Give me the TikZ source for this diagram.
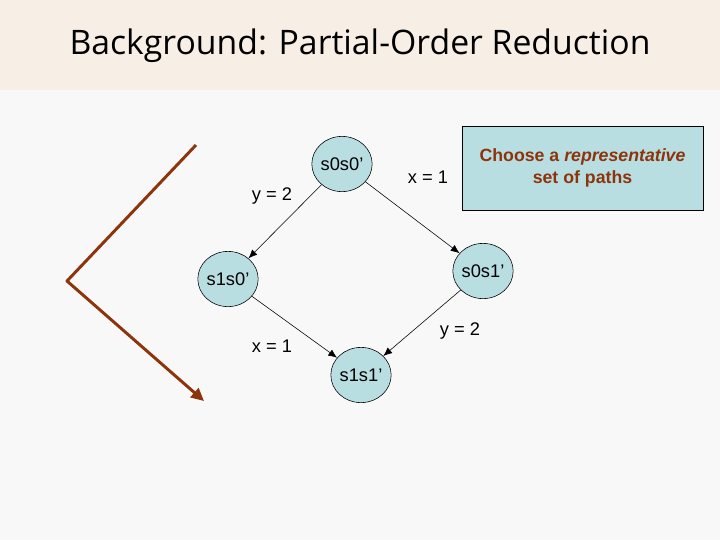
\documentclass[tikz,border=0pt]{standalone}
\usepackage{fontspec}
\setmainfont{Liberation Sans}
\newfontfamily\titlefont{Open Sans}
\usepackage{tikz}
\usetikzlibrary{shapes.geometric, arrows.meta, positioning}
\definecolor{titlebeige}{RGB}{247, 238, 230}
\definecolor{slidegray}{RGB}{248, 248, 248}
\definecolor{statecyan}{RGB}{185, 222, 226}
\definecolor{rustbrown}{RGB}{140, 52, 12}

\begin{document}
\begin{tikzpicture}[x=0.025cm, y=-0.025cm,
    state/.style={draw, ellipse, fill=statecyan, minimum width=1.5cm,
                  minimum height=1.38cm, inner sep=0pt, font=\fontsize{13}{15}\selectfont},
    lbl/.style={font=\fontsize{13}{15}\selectfont},
    arr/.style={-{Latex[length=2.2mm, width=1.8mm]}, thin},
    note/.style={draw, fill=statecyan, minimum width=6.02cm, minimum height=2.1cm,
                 align=center, text=rustbrown, font=\bfseries\fontsize{12.6}{15.5}\selectfont},
]
    % background and title band
    \fill[slidegray] (0,0) rectangle (720,540);
    \fill[titlebeige] (0,0) rectangle (720,90);
    \node[font=\titlefont\fontsize{24}{28}\selectfont] (title) at (360,46) {Background: Partial-Order Reduction};

    % states
    \node[state] (s00) at (342,164) {s0s0'};
    \node[state] (s10) at (228,279) {s1s0'};
    \node[state] (s01) at (483,271) {s0s1'};
    \node[state] (s11) at (361,375) {s1s1'};

    % transitions
    \draw[arr] (s00) -- (s10);
    \draw[arr] (s00) -- (s01);
    \draw[arr] (s10) -- (s11);
    \draw[arr] (s01) -- (s11);
    \node[lbl] (ly1) at (272,196) {y = 2};
    \node[lbl] (lx1) at (428,177) {x = 1};
    \node[lbl] (lx2) at (272,346) {x = 1};
    \node[lbl] (ly2) at (460,331) {y = 2};

    % note
    \node[note] (pick) at (582.5,168) {Choose a \textit{representative}\\set of paths};

    % reduction arrow
    \coordinate (top) at (196,145);
    \coordinate (tip) at (67,281);
    \coordinate (bot) at (204,401);
    \draw[rustbrown, line width=2.1pt, line join=round, -{Triangle[length=3.2mm, width=3mm]}] (top) -- (tip) -- (bot);
\end{tikzpicture}
\end{document}
